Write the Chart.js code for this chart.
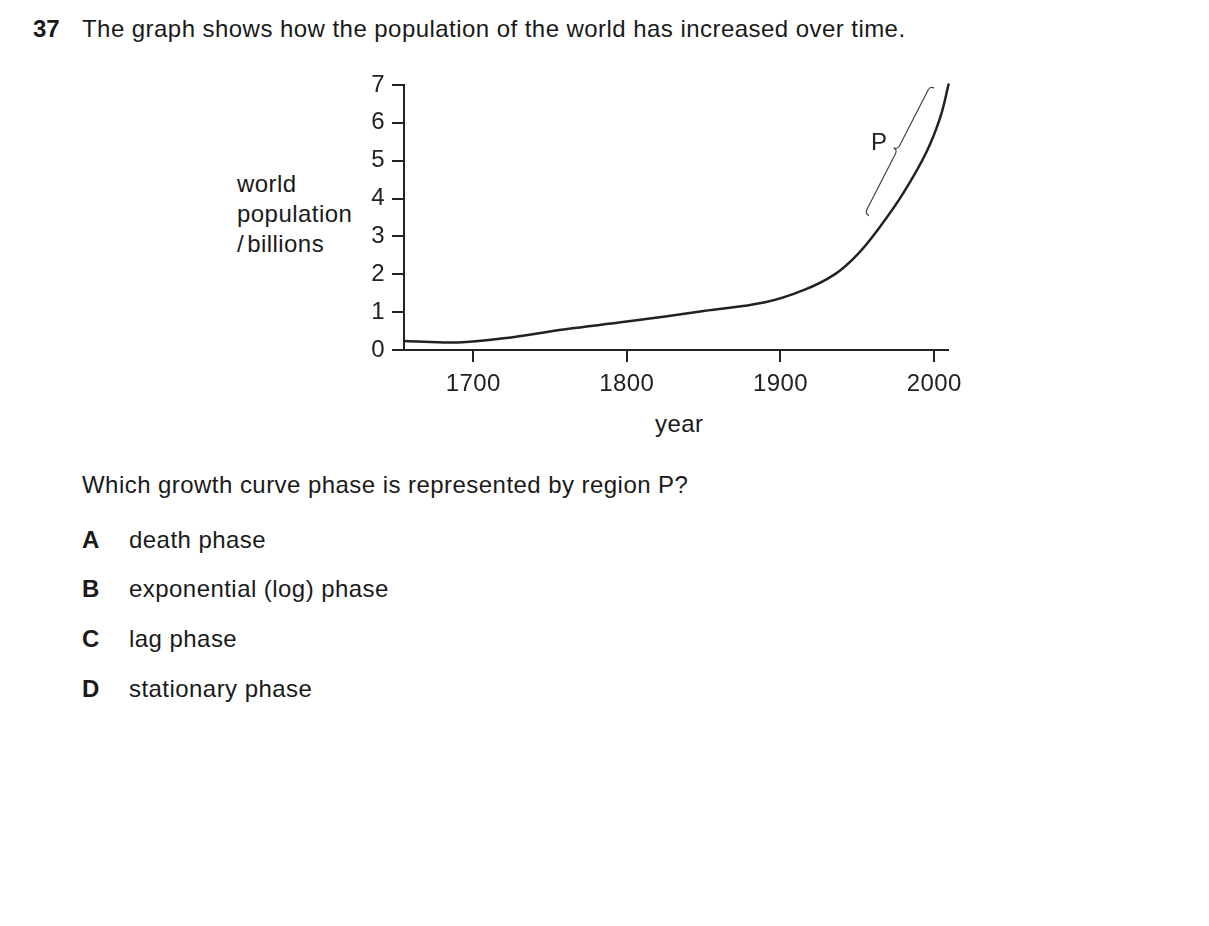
<!DOCTYPE html>
<html>
<head>
<meta charset="utf-8">
<script src="https://cdn.jsdelivr.net/npm/chart.js@4"></script>
<style>
  body { margin: 0; background: #fff; font-family: "Liberation Sans", Arial, sans-serif; color: #1a1a1a; }
  .t { position: absolute; font-size: 24px; line-height: 26px; letter-spacing: 0.45px; white-space: nowrap; }
  .b { font-weight: bold; letter-spacing: 0; }
  #wrap { position: absolute; left: 220px; top: 60px; }
</style>
</head>
<body>
<div class="t b" style="left:33px;top:16px">37</div>
<div class="t" style="left:82px;top:16px">The graph shows how the population of the world has increased over time.</div>

<div class="t" style="left:237px;top:169px;line-height:30px">world<br>population<br>/<span style="margin-left:3px">billions</span></div>

<div id="wrap"><canvas id="grafica" width="760" height="340"></canvas></div>

<div class="t" style="left:655px;top:411px">year</div>

<div class="t" style="left:82px;top:472px">Which growth curve phase is represented by region P?</div>
<div class="t b" style="left:82px;top:527px">A</div><div class="t" style="left:129px;top:527px">death phase</div>
<div class="t b" style="left:82px;top:576px">B</div><div class="t" style="left:129px;top:576px">exponential (log) phase</div>
<div class="t b" style="left:82px;top:626px">C</div><div class="t" style="left:129px;top:626px">lag phase</div>
<div class="t b" style="left:82px;top:676px">D</div><div class="t" style="left:129px;top:676px">stationary phase</div>

<script>
// values
const years = [1655, 1690, 1720, 1760, 1800, 1850, 1890, 1915, 1935, 1950, 1965, 1980, 1995, 2004, 2009.5];
const population = [0.24, 0.20, 0.31, 0.55, 0.75, 1.03, 1.26, 1.58, 1.99, 2.52, 3.27, 4.15, 5.23, 6.15, 7.04];
const xTicks = [1700, 1800, 1900, 2000];
const yTicks = [0, 1, 2, 3, 4, 5, 6, 7];

// brace "P" (bottom end, top end) and its label, in data units
const braceYears = [1957.5, 2000];
const braceValues = [3.55, 6.92];
const labelP = ["P", 1964.2, 5.47];

const tinta = "#222";

const llave = {
  id: "llave",
  beforeDraw(chart) {
    chart.ctx.letterSpacing = "0.4px";
  },
  afterDatasetsDraw(chart) {
    const ctx = chart.ctx;
    const x = chart.scales.x, y = chart.scales.y;
    const bx = x.getPixelForValue(braceYears[0]), by = y.getPixelForValue(braceValues[0]);
    const tx = x.getPixelForValue(braceYears[1]), ty = y.getPixelForValue(braceValues[1]);
    let ux = tx - bx, uy = ty - by;
    const len = Math.hypot(ux, uy);
    ux /= len; uy /= len;
    const nx = uy, ny = -ux; // points left, towards the label
    const q = 4.5, mx = (bx + tx) / 2, my = (by + ty) / 2;
    ctx.save();
    ctx.strokeStyle = "#444";
    ctx.lineWidth = 1.2;
    ctx.beginPath();
    ctx.moveTo(bx, by);
    ctx.quadraticCurveTo(bx + nx * q, by + ny * q, bx + nx * q + ux * q, by + ny * q + uy * q);
    ctx.lineTo(mx + nx * q - ux * q, my + ny * q - uy * q);
    ctx.quadraticCurveTo(mx + nx * q, my + ny * q, mx + nx * 2 * q, my + ny * 2 * q);
    ctx.quadraticCurveTo(mx + nx * q, my + ny * q, mx + nx * q + ux * q, my + ny * q + uy * q);
    ctx.lineTo(tx + nx * q - ux * q, ty + ny * q - uy * q);
    ctx.quadraticCurveTo(tx + nx * q, ty + ny * q, tx, ty);
    ctx.stroke();
    ctx.fillStyle = tinta;
    ctx.font = '24px "Liberation Sans", Arial, sans-serif';
    ctx.textAlign = "center";
    ctx.textBaseline = "middle";
    ctx.fillText(labelP[0], x.getPixelForValue(labelP[1]), y.getPixelForValue(labelP[2]));
    ctx.restore();
  }
};

Chart.defaults.font.family = '"Liberation Sans", Arial, sans-serif';
Chart.defaults.font.size = 24;
Chart.defaults.color = tinta;

new Chart(document.getElementById("grafica"), {
  type: "line",
  data: {
    datasets: [{
      data: years.map((a, i) => ({ x: a, y: population[i] })),
      borderColor: tinta,
      borderWidth: 2.5,
      pointRadius: 0,
      fill: false,
      tension: 0.4,
      clip: false
    }]
  },
  options: {
    responsive: false,
    animation: false,
    layout: { padding: { top: 25, right: 32, left: 0, bottom: 0 } },
    plugins: { legend: { display: false }, tooltip: { enabled: false } },
    scales: {
      x: {
        type: "linear",
        min: 1655,
        max: 2009,
        afterBuildTicks: (s) => { s.ticks = xTicks.map((v) => ({ value: v })); },
        afterFit: (s) => { s.height = 50; },
        ticks: { padding: 8, maxRotation: 0, callback: (v) => String(v) },
        grid: { drawOnChartArea: false, tickLength: 12, color: tinta, lineWidth: 2 },
        border: { color: tinta, width: 2 }
      },
      y: {
        min: 0,
        max: 7,
        afterBuildTicks: (s) => { s.ticks = yTicks.map((v) => ({ value: v })); },
        afterFit: (s) => { s.width = 184; },
        ticks: { padding: 7, callback: (v) => String(v) },
        grid: { drawOnChartArea: false, tickLength: 12, color: tinta, lineWidth: 2 },
        border: { color: tinta, width: 2 }
      }
    }
  },
  plugins: [llave]
});
</script>
</body>
</html>
